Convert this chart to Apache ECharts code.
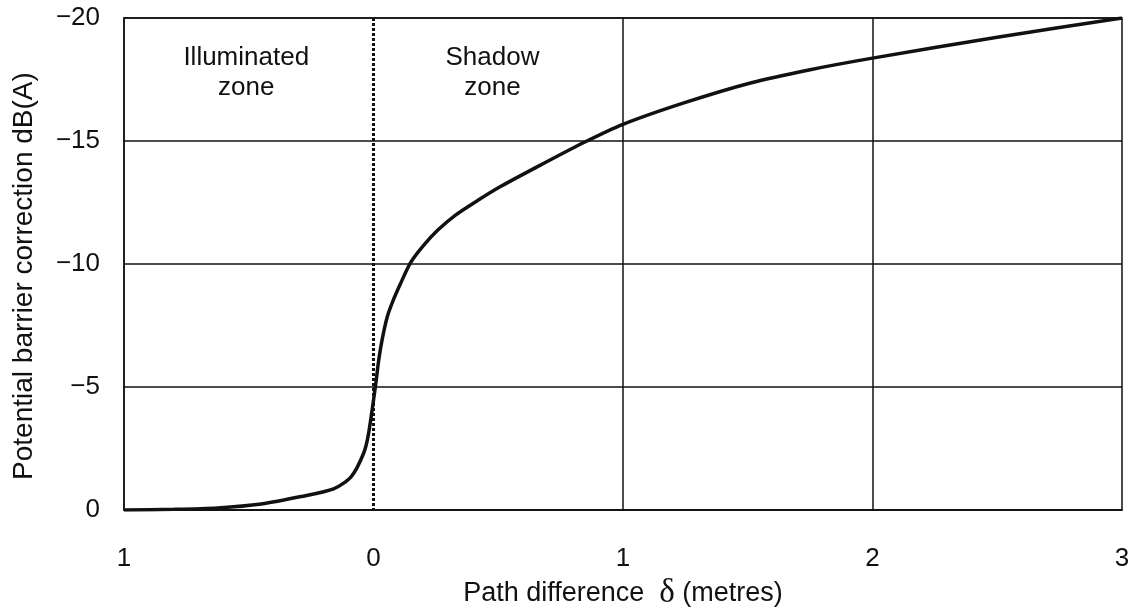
<!DOCTYPE html>
<html>
<head>
<meta charset="utf-8">
<title>Potential barrier correction</title>
<script src="https://cdn.jsdelivr.net/npm/echarts@6/dist/echarts.min.js"></script>
<style>
html, body { margin: 0; padding: 0; background: #fff; }
#main { width: 1133px; height: 615px; }
</style>
</head>
<body>
<div id="main"></div>
<script>
// path difference (m), negative = illuminated side
var pathDiff = [-1, -0.8, -0.625, -0.45, -0.29, -0.16, -0.09, -0.04, -0.02, 0.008, 0.021, 0.035, 0.055, 0.08, 0.108, 0.148, 0.2, 0.26, 0.33, 0.42, 0.509, 0.65, 0.843, 1.0, 1.244, 1.511, 1.75, 2.0, 2.5, 3.0];
// barrier correction dB(A)
var correction = [0, -0.03, -0.09, -0.25, -0.55, -0.86, -1.35, -2.3, -3.1, -5.05, -6.1, -6.95, -7.85, -8.55, -9.2, -10.05, -10.75, -11.4, -12.0, -12.6, -13.15, -13.92, -14.94, -15.68, -16.55, -17.36, -17.9, -18.37, -19.22, -20];
var xTicks = [-1, 0, 1, 2, 3];
var yTicks = [0, -5, -10, -15, -20];
// zone labels: [x, y, text]
var zoneLabels = [
	[-0.51, -17.78, 'Illuminated\nzone'],
	[0.477, -17.78, 'Shadow\nzone']
];

var ink = '#111';
var font = '"Liberation Sans", Arial, sans-serif';

var curveData = [];
for (var i = 0; i < pathDiff.length; i++) {
	curveData.push([pathDiff[i], correction[i]]);
}

var chart = echarts.init(document.getElementById('main'));
var option = {
	backgroundColor: '#fff',
	animation: false,
	grid: {
		left: 124, right: 11, top: 18, bottom: 102,
		show: true, borderColor: ink, borderWidth: 1.5
	},
	xAxis: {
		type: 'value',
		min: xTicks[0], max: xTicks[xTicks.length - 1], interval: 1,
		name: 'Path difference  {d|δ} (metres)',
		nameLocation: 'middle',
		nameGap: 66,
		nameTextStyle: {
			color: ink, fontFamily: font, fontSize: 27,
			rich: { d: { fontFamily: '"Liberation Serif", "DejaVu Serif", serif', fontSize: 33, color: ink } }
		},
		axisLine: { show: true, onZero: false, lineStyle: { color: ink, width: 1.5 } },
		axisTick: { show: false },
		splitLine: { show: false },
		axisLabel: {
			color: ink, fontFamily: font, fontSize: 26, margin: 36,
			formatter: function (v) { return String(Math.abs(v)); }
		}
	},
	yAxis: {
		type: 'value',
		min: yTicks[yTicks.length - 1], max: yTicks[0], interval: 5,
		inverse: true,
		name: 'Potential barrier correction dB(A)',
		nameLocation: 'middle',
		nameGap: 86,
		nameTextStyle: { color: ink, fontFamily: font, fontSize: 28, padding: [0, 24, 0, 0] },
		axisLine: { show: true, onZero: false, lineStyle: { color: ink, width: 1.5 } },
		axisTick: { show: false },
		splitLine: { show: true, lineStyle: { color: ink, width: 1.5 } },
		axisLabel: {
			color: ink, fontFamily: font, fontSize: 26, margin: 24, padding: [10, 0, 0, 0],
			formatter: function (v) { return v < 0 ? '\u2212' + Math.abs(v) : String(v); }
		}
	},
	series: [
		{
			type: 'line',
			data: curveData,
			smooth: 0.25,
			showSymbol: false,
			lineStyle: { color: ink, width: 3.5 },
			z: 5,
			markLine: {
				silent: true,
				symbol: 'none',
				label: { show: false },
				lineStyle: { color: ink, width: 1.5, type: 'solid' },
				data: [
					{ xAxis: 1 },
					{ xAxis: 2 },
					{ xAxis: 0, lineStyle: { type: [3, 2], width: 3, color: ink } }
				]
			}
		},
		{
			type: 'scatter',
			data: zoneLabels,
			symbolSize: 0,
			itemStyle: { color: '#fff', opacity: 1 },
			silent: true,
			label: {
				show: true, position: 'inside', color: ink, opacity: 1, fontFamily: font, fontSize: 26, lineHeight: 30,
				align: 'center', verticalAlign: 'middle',
				formatter: function (p) { return p.value[2]; }
			}
		}
	]
};
chart.setOption(option);
</script>
</body>
</html>
